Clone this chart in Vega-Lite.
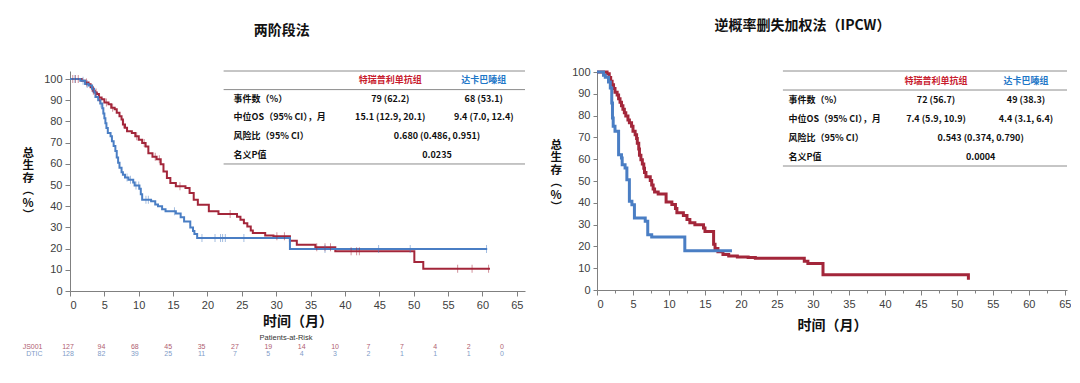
{
  "$schema": "https://vega.github.io/schema/vega-lite/v6.json",
  "padding": {"left": 22, "top": 19, "right": 0, "bottom": 0},
  "background": "white",
  "config": {
    "view": {"stroke": null},
    "font": "Liberation Sans",
    "axis": {"grid": false, "labelOverlap": false, "domainColor": "#808080", "tickColor": "#808080", "labelColor": "#404040", "labelFont": "Liberation Sans", "labelFontSize": 11, "titleFont": "Noto Sans CJK SC", "titleFontSize": 14, "titleFontWeight": "bold", "titleColor": "#111111", "tickSize": 5, "labelPadding": 3},
    "title": {"font": "Noto Sans CJK SC", "fontSize": 14, "fontWeight": "bold", "color": "#111111"}
  },
  "datasets": {
    "survL": [
      {"grp":"JS001","t":0,"s":100},{"grp":"JS001","t":1.7,"s":99.2},{"grp":"JS001","t":2.2,"s":98.4},{"grp":"JS001","t":2.7,"s":97.6},{"grp":"JS001","t":3.0,"s":96.1},{"grp":"JS001","t":3.3,"s":94.5},{"grp":"JS001","t":3.6,"s":93.7},{"grp":"JS001","t":3.9,"s":92.9},{"grp":"JS001","t":4.2,"s":91.3},{"grp":"JS001","t":4.6,"s":90.5},{"grp":"JS001","t":5.0,"s":88.9},{"grp":"JS001","t":5.6,"s":88.1},{"grp":"JS001","t":6.0,"s":86.5},{"grp":"JS001","t":6.5,"s":85.7},{"grp":"JS001","t":6.8,"s":84.1},{"grp":"JS001","t":7.2,"s":82.5},{"grp":"JS001","t":7.5,"s":80.9},{"grp":"JS001","t":7.7,"s":78.5},{"grp":"JS001","t":8.0,"s":77.0},{"grp":"JS001","t":8.3,"s":75.4},{"grp":"JS001","t":9.0,"s":74.6},{"grp":"JS001","t":9.5,"s":73.0},{"grp":"JS001","t":10.0,"s":71.4},{"grp":"JS001","t":10.5,"s":69.8},{"grp":"JS001","t":11.0,"s":68.2},{"grp":"JS001","t":11.4,"s":65.0},{"grp":"JS001","t":12.0,"s":63.4},{"grp":"JS001","t":12.6,"s":62.2},{"grp":"JS001","t":13.2,"s":59.8},{"grp":"JS001","t":13.6,"s":56.4},{"grp":"JS001","t":14.1,"s":53.3},{"grp":"JS001","t":14.6,"s":50.9},{"grp":"JS001","t":15.4,"s":49.4},{"grp":"JS001","t":16.8,"s":48.6},{"grp":"JS001","t":17.4,"s":46.2},{"grp":"JS001","t":18.0,"s":43.1},{"grp":"JS001","t":18.6,"s":40.7},{"grp":"JS001","t":20.2,"s":37.6},{"grp":"JS001","t":21.6,"s":36.3},{"grp":"JS001","t":24.3,"s":35.0},{"grp":"JS001","t":24.8,"s":33.6},{"grp":"JS001","t":25.3,"s":32.0},{"grp":"JS001","t":25.8,"s":30.4},{"grp":"JS001","t":26.3,"s":28.5},{"grp":"JS001","t":26.6,"s":27.4},{"grp":"JS001","t":28.4,"s":26.2},{"grp":"JS001","t":29.6,"s":25.8},{"grp":"JS001","t":32.0,"s":23.7},{"grp":"JS001","t":33.0,"s":21.8},{"grp":"JS001","t":35.7,"s":20.6},{"grp":"JS001","t":38.6,"s":18.7},{"grp":"JS001","t":50.1,"s":13.7},{"grp":"JS001","t":51.4,"s":10.5},{"grp":"JS001","t":61.1,"s":10.5},
      {"grp":"DTIC","t":0,"s":100},{"grp":"DTIC","t":1.5,"s":99.2},{"grp":"DTIC","t":2.2,"s":97.7},{"grp":"DTIC","t":2.7,"s":96.9},{"grp":"DTIC","t":3.2,"s":95.4},{"grp":"DTIC","t":3.5,"s":93.8},{"grp":"DTIC","t":3.7,"s":91.5},{"grp":"DTIC","t":4.1,"s":90.0},{"grp":"DTIC","t":4.4,"s":88.5},{"grp":"DTIC","t":4.7,"s":86.2},{"grp":"DTIC","t":4.85,"s":83.8},{"grp":"DTIC","t":5.0,"s":81.5},{"grp":"DTIC","t":5.15,"s":79.2},{"grp":"DTIC","t":5.3,"s":76.9},{"grp":"DTIC","t":5.5,"s":74.6},{"grp":"DTIC","t":5.9,"s":73.0},{"grp":"DTIC","t":6.1,"s":70.7},{"grp":"DTIC","t":6.35,"s":68.4},{"grp":"DTIC","t":6.6,"s":66.0},{"grp":"DTIC","t":6.8,"s":63.0},{"grp":"DTIC","t":7.0,"s":60.5},{"grp":"DTIC","t":7.2,"s":58.2},{"grp":"DTIC","t":7.5,"s":56.0},{"grp":"DTIC","t":7.7,"s":54.8},{"grp":"DTIC","t":8.0,"s":53.6},{"grp":"DTIC","t":8.5,"s":52.5},{"grp":"DTIC","t":9.2,"s":51.2},{"grp":"DTIC","t":9.4,"s":49.8},{"grp":"DTIC","t":10.1,"s":48.3},{"grp":"DTIC","t":10.3,"s":45.6},{"grp":"DTIC","t":10.5,"s":43.1},{"grp":"DTIC","t":11.8,"s":42.3},{"grp":"DTIC","t":12.4,"s":40.8},{"grp":"DTIC","t":12.8,"s":40.0},{"grp":"DTIC","t":13.4,"s":38.6},{"grp":"DTIC","t":13.9,"s":37.6},{"grp":"DTIC","t":15.4,"s":36.6},{"grp":"DTIC","t":16.1,"s":34.8},{"grp":"DTIC","t":16.6,"s":32.8},{"grp":"DTIC","t":17.5,"s":30.0},{"grp":"DTIC","t":17.9,"s":28.3},{"grp":"DTIC","t":18.1,"s":26.9},{"grp":"DTIC","t":18.5,"s":25.0},{"grp":"DTIC","t":32.0,"s":19.8},{"grp":"DTIC","t":60.7,"s":19.8}
    ],
    "censL": [
      {"grp":"JS001","t":0.4,"s":100},{"grp":"JS001","t":0.8,"s":100},{"grp":"JS001","t":1.2,"s":100},{"grp":"JS001","t":2.4,"s":98.4},{"grp":"JS001","t":3.4,"s":94.5},{"grp":"JS001","t":3.8,"s":93.7},{"grp":"JS001","t":4.3,"s":91.3},{"grp":"JS001","t":5.3,"s":88.9},{"grp":"JS001","t":6.2,"s":86.5},{"grp":"JS001","t":7.8,"s":78.5},{"grp":"JS001","t":9.7,"s":73.0},{"grp":"JS001","t":10.8,"s":69.8},{"grp":"JS001","t":12.4,"s":63.4},{"grp":"JS001","t":13.0,"s":62.2},{"grp":"JS001","t":16.0,"s":49.4},{"grp":"JS001","t":23.3,"s":36.3},{"grp":"JS001","t":30.1,"s":25.8},{"grp":"JS001","t":31.2,"s":25.8},{"grp":"JS001","t":35.9,"s":20.6},{"grp":"JS001","t":37.1,"s":20.6},{"grp":"JS001","t":37.9,"s":20.6},{"grp":"JS001","t":40.9,"s":18.7},{"grp":"JS001","t":41.7,"s":18.7},{"grp":"JS001","t":42.1,"s":18.7},{"grp":"JS001","t":56.4,"s":10.5},{"grp":"JS001","t":58.5,"s":10.5},{"grp":"JS001","t":60.9,"s":10.5},
      {"grp":"DTIC","t":0.7,"s":100},{"grp":"DTIC","t":1.9,"s":99.2},{"grp":"DTIC","t":2.5,"s":97.7},{"grp":"DTIC","t":3.3,"s":95.4},{"grp":"DTIC","t":4.5,"s":88.5},{"grp":"DTIC","t":8.3,"s":53.6},{"grp":"DTIC","t":8.8,"s":52.5},{"grp":"DTIC","t":9.6,"s":49.8},{"grp":"DTIC","t":10.0,"s":49.8},{"grp":"DTIC","t":11.05,"s":43.1},{"grp":"DTIC","t":11.4,"s":43.1},{"grp":"DTIC","t":15.2,"s":37.6},{"grp":"DTIC","t":19.2,"s":25.0},{"grp":"DTIC","t":21.1,"s":25.0},{"grp":"DTIC","t":21.9,"s":25.0},{"grp":"DTIC","t":22.2,"s":25.0},{"grp":"DTIC","t":22.6,"s":25.0},{"grp":"DTIC","t":25.3,"s":25.0},{"grp":"DTIC","t":37.1,"s":19.8},{"grp":"DTIC","t":44.9,"s":19.8},{"grp":"DTIC","t":49.5,"s":19.8},{"grp":"DTIC","t":60.6,"s":19.8}
    ],
    "survR": [
      {"grp":"JS001","t":0,"s":100},{"grp":"JS001","t":1.4,"s":99.2},{"grp":"JS001","t":1.7,"s":97.5},{"grp":"JS001","t":1.9,"s":95.8},{"grp":"JS001","t":2.1,"s":94.2},{"grp":"JS001","t":2.3,"s":92.5},{"grp":"JS001","t":2.5,"s":90.8},{"grp":"JS001","t":2.8,"s":89.5},{"grp":"JS001","t":3.0,"s":87.8},{"grp":"JS001","t":3.2,"s":86.2},{"grp":"JS001","t":3.4,"s":84.5},{"grp":"JS001","t":3.6,"s":83.0},{"grp":"JS001","t":3.8,"s":81.3},{"grp":"JS001","t":4.0,"s":79.8},{"grp":"JS001","t":4.3,"s":78.0},{"grp":"JS001","t":4.5,"s":76.7},{"grp":"JS001","t":4.8,"s":75.1},{"grp":"JS001","t":5.0,"s":72.9},{"grp":"JS001","t":5.3,"s":71.3},{"grp":"JS001","t":5.5,"s":69.5},{"grp":"JS001","t":5.6,"s":67.4},{"grp":"JS001","t":5.8,"s":64.7},{"grp":"JS001","t":5.9,"s":61.8},{"grp":"JS001","t":6.1,"s":59.8},{"grp":"JS001","t":6.3,"s":57.8},{"grp":"JS001","t":6.5,"s":55.9},{"grp":"JS001","t":6.6,"s":53.9},{"grp":"JS001","t":6.8,"s":52.0},{"grp":"JS001","t":7.4,"s":50.2},{"grp":"JS001","t":7.6,"s":48.2},{"grp":"JS001","t":7.8,"s":46.3},{"grp":"JS001","t":8.0,"s":45.0},{"grp":"JS001","t":8.5,"s":44.0},{"grp":"JS001","t":9.6,"s":40.4},{"grp":"JS001","t":10.4,"s":39.2},{"grp":"JS001","t":10.9,"s":37.4},{"grp":"JS001","t":11.1,"s":35.5},{"grp":"JS001","t":12.0,"s":34.2},{"grp":"JS001","t":12.5,"s":32.3},{"grp":"JS001","t":12.9,"s":30.9},{"grp":"JS001","t":13.6,"s":29.9},{"grp":"JS001","t":14.8,"s":28.5},{"grp":"JS001","t":15.0,"s":26.9},{"grp":"JS001","t":16.2,"s":21.0},{"grp":"JS001","t":16.4,"s":19.0},{"grp":"JS001","t":16.8,"s":17.5},{"grp":"JS001","t":17.5,"s":16.3},{"grp":"JS001","t":18.3,"s":15.6},{"grp":"JS001","t":19.5,"s":15.2},{"grp":"JS001","t":21.0,"s":14.9},{"grp":"JS001","t":22.0,"s":14.6},{"grp":"JS001","t":28.8,"s":13.2},{"grp":"JS001","t":29.3,"s":12.2},{"grp":"JS001","t":31.4,"s":7.0},{"grp":"JS001","t":51.6,"s":4.7},
      {"grp":"DTIC","t":0,"s":100},{"grp":"DTIC","t":0.9,"s":98.5},{"grp":"DTIC","t":1.15,"s":97.6},{"grp":"DTIC","t":1.6,"s":95.4},{"grp":"DTIC","t":1.85,"s":92.7},{"grp":"DTIC","t":2.05,"s":85.8},{"grp":"DTIC","t":2.15,"s":78.9},{"grp":"DTIC","t":2.25,"s":75.1},{"grp":"DTIC","t":2.5,"s":72.8},{"grp":"DTIC","t":3.0,"s":62.1},{"grp":"DTIC","t":3.4,"s":60.6},{"grp":"DTIC","t":3.5,"s":57.5},{"grp":"DTIC","t":3.9,"s":56.0},{"grp":"DTIC","t":4.15,"s":50.6},{"grp":"DTIC","t":4.5,"s":40.7},{"grp":"DTIC","t":4.85,"s":39.1},{"grp":"DTIC","t":5.2,"s":33.0},{"grp":"DTIC","t":6.7,"s":31.5},{"grp":"DTIC","t":7.05,"s":25.4},{"grp":"DTIC","t":7.6,"s":24.3},{"grp":"DTIC","t":12.2,"s":18.0},{"grp":"DTIC","t":18.75,"s":18.0}
    ],
    "tabL": [
      {"row":"h","col":"c1","text":"特瑞普利单抗组"},
      {"row":"h","col":"c2","text":"达卡巴嗪组"},
      {"row":"r1","col":"lab","text":"事件数（%）"},
      {"row":"r1","col":"c1","text":"79 (62.2)"},
      {"row":"r1","col":"c2","text":"68 (53.1)"},
      {"row":"r2","col":"lab","text":"中位OS（95% CI），月"},
      {"row":"r2","col":"c1","text":"15.1 (12.9, 20.1)"},
      {"row":"r2","col":"c2","text":"9.4 (7.0, 12.4)"},
      {"row":"r3","col":"lab","text":"风险比（95% CI）"},
      {"row":"r3","col":"m","text":"0.680 (0.486, 0.951)"},
      {"row":"r4","col":"lab","text":"名义P值"},
      {"row":"r4","col":"m","text":"0.0235"}
    ],
    "tabR": [
      {"row":"h","col":"c1","text":"特瑞普利单抗组"},
      {"row":"h","col":"c2","text":"达卡巴嗪组"},
      {"row":"r1","col":"lab","text":"事件数（%）"},
      {"row":"r1","col":"c1","text":"72 (56.7)"},
      {"row":"r1","col":"c2","text":"49 (38.3)"},
      {"row":"r2","col":"lab","text":"中位OS（95% CI），月"},
      {"row":"r2","col":"c1","text":"7.4 (5.9, 10.9)"},
      {"row":"r2","col":"c2","text":"4.4 (3.1, 6.4)"},
      {"row":"r3","col":"lab","text":"风险比（95% CI）"},
      {"row":"r3","col":"m","text":"0.543 (0.374, 0.790)"},
      {"row":"r4","col":"lab","text":"名义P值"},
      {"row":"r4","col":"m","text":"0.0004"}
    ],
    "tabLines": [{"row":"h"},{"row":"r1"},{"row":"end"}],
    "risk": [
      {"grp":"JS001","t":0,"n":127},{"grp":"JS001","t":5,"n":94},{"grp":"JS001","t":10,"n":68},{"grp":"JS001","t":15,"n":45},{"grp":"JS001","t":20,"n":35},{"grp":"JS001","t":25,"n":27},{"grp":"JS001","t":30,"n":19},{"grp":"JS001","t":35,"n":14},{"grp":"JS001","t":40,"n":10},{"grp":"JS001","t":45,"n":7},{"grp":"JS001","t":50,"n":7},{"grp":"JS001","t":55,"n":4},{"grp":"JS001","t":60,"n":2},{"grp":"JS001","t":65,"n":0},
      {"grp":"DTIC","t":0,"n":128},{"grp":"DTIC","t":5,"n":82},{"grp":"DTIC","t":10,"n":39},{"grp":"DTIC","t":15,"n":25},{"grp":"DTIC","t":20,"n":11},{"grp":"DTIC","t":25,"n":7},{"grp":"DTIC","t":30,"n":5},{"grp":"DTIC","t":35,"n":4},{"grp":"DTIC","t":40,"n":3},{"grp":"DTIC","t":45,"n":2},{"grp":"DTIC","t":50,"n":1},{"grp":"DTIC","t":55,"n":1},{"grp":"DTIC","t":60,"n":1},{"grp":"DTIC","t":65,"n":0}
    ]
  },
  "hconcat": [
    {
      "spacing": 6,
      "vconcat": [
        {
          "width": 455,
          "height": 220,
          "title": {"text": "两阶段法", "anchor": "middle", "frame": "bounds", "offset": 33, "dx": 8},
          "layer": [
            {
              "layer": [
                {
                  "data": {"name": "survL"},
                  "mark": {"type": "line", "interpolate": "step-after", "strokeWidth": 2},
                  "encoding": {
                    "x": {"field": "t", "type": "quantitative", "scale": {"domain": [0, 66.2], "nice": false, "zero": false}, "axis": {"values": [0,5,10,15,20,25,30,35,40,45,50,55,60,65], "title": "时间（月）", "titlePadding": 4}},
                    "y": {"field": "s", "type": "quantitative", "scale": {"domain": [0, 103.8], "nice": false}, "axis": {"values": [0,10,20,30,40,50,60,70,80,90,100], "title": ["总","生","存","︵","%","︶"], "titleAngle": 0, "titleAlign": "left", "titleBaseline": "top", "titleFontSize": 11.5, "titleLineHeight": 12.5, "titleX": -48, "titleY": 76}},
                    "color": {"field": "grp", "type": "nominal", "scale": {"domain": ["JS001","DTIC"], "range": ["#A3263A","#4A7EC4"]}, "legend": null}
                  }
                },
                {
                  "data": {"name": "censL"},
                  "mark": {"type": "tick", "orient": "vertical", "size": 8, "thickness": 1, "opacity": 0.5},
                  "encoding": {
                    "x": {"field": "t", "type": "quantitative", "axis": {"values": [0,5,10,15,20,25,30,35,40,45,50,55,60,65], "title": "时间（月）", "titlePadding": 4}},
                    "y": {"field": "s", "type": "quantitative", "axis": {"values": [0,10,20,30,40,50,60,70,80,90,100], "title": ["总","生","存","︵","%","︶"], "titleAngle": 0, "titleAlign": "left", "titleBaseline": "top", "titleFontSize": 11.5, "titleLineHeight": 12.5, "titleX": -48, "titleY": 76}},
                    "color": {"field": "grp", "type": "nominal", "legend": null}
                  }
                }
              ]
            },
            {
              "layer": [
                {
                  "data": {"name": "tabLines"},
                  "mark": {"type": "rule", "color": "#8c8c8c", "strokeWidth": 1},
                  "encoding": {
                    "x": {"datum": 22.35, "axis": {"values": [0,5,10,15,20,25,30,35,40,45,50,55,60,65], "title": "时间（月）", "titlePadding": 4}},
                    "x2": {"datum": 66.2},
                    "y": {"field": "row", "type": "ordinal", "bandPosition": 0, "scale": {"type": "band", "domain": ["h","r1","r2","r3","r4","end","_1","_2","_3","_4","_5"], "paddingInner": 0, "paddingOuter": 0.415, "align": 0}, "axis": null}
                  }
                },
                {
                  "data": {"name": "tabL"},
                  "transform": [{"filter": "datum.col === 'lab'"}],
                  "mark": {"type": "text", "align": "left", "font": "Noto Sans CJK SC", "fontWeight": "bold", "fontSize": 9, "color": "#111111"},
                  "encoding": {
                    "x": {"datum": 23.8, "axis": {"values": [0,5,10,15,20,25,30,35,40,45,50,55,60,65], "title": "时间（月）", "titlePadding": 4}},
                    "y": {"field": "row", "type": "ordinal", "scale": {"type": "band", "domain": ["h","r1","r2","r3","r4","end","_1","_2","_3","_4","_5"], "paddingInner": 0, "paddingOuter": 0.415, "align": 0}, "axis": null},
                    "text": {"field": "text"}
                  }
                },
                {
                  "data": {"name": "tabL"},
                  "transform": [{"filter": "datum.col === 'c1'"}],
                  "mark": {"type": "text", "align": "center", "font": "Noto Sans CJK SC", "fontWeight": "bold", "fontSize": 9},
                  "encoding": {
                    "x": {"datum": 46.6, "axis": {"values": [0,5,10,15,20,25,30,35,40,45,50,55,60,65], "title": "时间（月）", "titlePadding": 4}},
                    "y": {"field": "row", "type": "ordinal", "scale": {"type": "band", "domain": ["h","r1","r2","r3","r4","end","_1","_2","_3","_4","_5"], "paddingInner": 0, "paddingOuter": 0.415, "align": 0}, "axis": null},
                    "text": {"field": "text"},
                    "color": {"condition": {"test": "datum.row === 'h'", "value": "#C8202E"}, "value": "#111111"}
                  }
                },
                {
                  "data": {"name": "tabL"},
                  "transform": [{"filter": "datum.col === 'c2'"}],
                  "mark": {"type": "text", "align": "center", "font": "Noto Sans CJK SC", "fontWeight": "bold", "fontSize": 9},
                  "encoding": {
                    "x": {"datum": 60.2, "axis": {"values": [0,5,10,15,20,25,30,35,40,45,50,55,60,65], "title": "时间（月）", "titlePadding": 4}},
                    "y": {"field": "row", "type": "ordinal", "scale": {"type": "band", "domain": ["h","r1","r2","r3","r4","end","_1","_2","_3","_4","_5"], "paddingInner": 0, "paddingOuter": 0.415, "align": 0}, "axis": null},
                    "text": {"field": "text"},
                    "color": {"condition": {"test": "datum.row === 'h'", "value": "#1F78C8"}, "value": "#111111"}
                  }
                },
                {
                  "data": {"name": "tabL"},
                  "transform": [{"filter": "datum.col === 'm'"}],
                  "mark": {"type": "text", "align": "center", "font": "Noto Sans CJK SC", "fontWeight": "bold", "fontSize": 9, "color": "#111111"},
                  "encoding": {
                    "x": {"datum": 53.4, "axis": {"values": [0,5,10,15,20,25,30,35,40,45,50,55,60,65], "title": "时间（月）", "titlePadding": 4}},
                    "y": {"field": "row", "type": "ordinal", "scale": {"type": "band", "domain": ["h","r1","r2","r3","r4","end","_1","_2","_3","_4","_5"], "paddingInner": 0, "paddingOuter": 0.415, "align": 0}, "axis": null},
                    "text": {"field": "text"}
                  }
                }
              ]
            }
          ],
          "resolve": {"scale": {"y": "independent"}}
        },
        {
          "width": 432,
          "height": 14,
          "title": {"text": "Patients-at-Risk", "font": "Liberation Sans", "fontSize": 7.5, "fontWeight": "normal", "color": "#333333", "offset": 1, "anchor": "middle", "frame": "group"},
          "data": {"name": "risk"},
          "mark": {"type": "text", "font": "Liberation Sans", "fontSize": 7},
          "encoding": {
            "x": {"field": "t", "type": "quantitative", "scale": {"domain": [0.3, 65], "nice": false, "zero": false}, "axis": null},
            "y": {"field": "grp", "type": "nominal", "sort": ["JS001","DTIC"], "axis": {"title": null, "domain": false, "ticks": false, "labelPadding": 28, "labelFontSize": 7, "labelColor": {"condition": {"test": "datum.value === 'JS001'", "value": "#B06070"}, "value": "#7F9CC8"}}},
            "text": {"field": "n", "type": "quantitative"},
            "color": {"condition": {"test": "datum.grp === 'JS001'", "value": "#B06070"}, "value": "#7F9CC8"}
          }
        }
      ]
    },
    {
      "width": 470,
      "height": 219,
      "title": {"text": "逆概率删失加权法（IPCW）", "anchor": "middle", "frame": "bounds", "offset": 33, "dx": -8},
      "layer": [
        {
          "data": {"name": "survR"},
          "mark": {"type": "line", "interpolate": "step-after", "strokeWidth": 3},
          "encoding": {
            "x": {"field": "t", "type": "quantitative", "scale": {"domain": [0, 65.3], "nice": false, "zero": false}, "axis": {"values": [0,2.5,5,7.5,10,12.5,15,17.5,20,22.5,25,27.5,30,32.5,35,37.5,40,42.5,45,47.5,50,52.5,55,57.5,60,62.5,65], "labelExpr": "datum.value % 5 === 0 ? datum.label : ''", "tickSize": {"condition": {"test": "datum.value % 5 === 0", "value": 5}, "value": 3}, "title": "时间（月）", "titlePadding": 9}},
            "y": {"field": "s", "type": "quantitative", "scale": {"domain": [0, 100.5], "nice": false}, "axis": {"values": [0,10,20,30,40,50,60,70,80,90,100], "tickSize": 4, "title": ["总","生","存","︵","%","︶"], "titleAngle": 0, "titleAlign": "left", "titleBaseline": "top", "titleFontSize": 11.5, "titleLineHeight": 12.5, "titleX": -47, "titleY": 68}},
            "color": {"field": "grp", "type": "nominal", "scale": {"domain": ["JS001","DTIC"], "range": ["#A3263A","#4A7EC4"]}, "legend": null}
          }
        },
        {
          "layer": [
            {
              "data": {"name": "tabLines"},
              "mark": {"type": "rule", "color": "#8c8c8c", "strokeWidth": 1},
              "encoding": {
                "x": {"datum": 25.83, "axis": {"values": [0,2.5,5,7.5,10,12.5,15,17.5,20,22.5,25,27.5,30,32.5,35,37.5,40,42.5,45,47.5,50,52.5,55,57.5,60,62.5,65], "labelExpr": "datum.value % 5 === 0 ? datum.label : ''", "tickSize": {"condition": {"test": "datum.value % 5 === 0", "value": 5}, "value": 3}, "title": "时间（月）", "titlePadding": 9}},
                "x2": {"datum": 65.3},
                "y": {"field": "row", "type": "ordinal", "bandPosition": 0, "scale": {"type": "band", "domain": ["h","r1","r2","r3","r4","end","_1","_2","_3","_4","_5"], "paddingInner": 0, "paddingOuter": 0.263, "align": 0}, "axis": null}
              }
            },
            {
              "data": {"name": "tabR"},
              "transform": [{"filter": "datum.col === 'lab'"}],
              "mark": {"type": "text", "align": "left", "font": "Noto Sans CJK SC", "fontWeight": "bold", "fontSize": 9, "color": "#111111"},
              "encoding": {
                "x": {"datum": 26.6, "axis": {"values": [0,2.5,5,7.5,10,12.5,15,17.5,20,22.5,25,27.5,30,32.5,35,37.5,40,42.5,45,47.5,50,52.5,55,57.5,60,62.5,65], "labelExpr": "datum.value % 5 === 0 ? datum.label : ''", "tickSize": {"condition": {"test": "datum.value % 5 === 0", "value": 5}, "value": 3}, "title": "时间（月）", "titlePadding": 9}},
                "y": {"field": "row", "type": "ordinal", "scale": {"type": "band", "domain": ["h","r1","r2","r3","r4","end","_1","_2","_3","_4","_5"], "paddingInner": 0, "paddingOuter": 0.263, "align": 0}, "axis": null},
                "text": {"field": "text"}
              }
            },
            {
              "data": {"name": "tabR"},
              "transform": [{"filter": "datum.col === 'c1'"}],
              "mark": {"type": "text", "align": "center", "font": "Noto Sans CJK SC", "fontWeight": "bold", "fontSize": 9},
              "encoding": {
                "x": {"datum": 47.1, "axis": {"values": [0,2.5,5,7.5,10,12.5,15,17.5,20,22.5,25,27.5,30,32.5,35,37.5,40,42.5,45,47.5,50,52.5,55,57.5,60,62.5,65], "labelExpr": "datum.value % 5 === 0 ? datum.label : ''", "tickSize": {"condition": {"test": "datum.value % 5 === 0", "value": 5}, "value": 3}, "title": "时间（月）", "titlePadding": 9}},
                "y": {"field": "row", "type": "ordinal", "scale": {"type": "band", "domain": ["h","r1","r2","r3","r4","end","_1","_2","_3","_4","_5"], "paddingInner": 0, "paddingOuter": 0.263, "align": 0}, "axis": null},
                "text": {"field": "text"},
                "color": {"condition": {"test": "datum.row === 'h'", "value": "#C8202E"}, "value": "#111111"}
              }
            },
            {
              "data": {"name": "tabR"},
              "transform": [{"filter": "datum.col === 'c2'"}],
              "mark": {"type": "text", "align": "center", "font": "Noto Sans CJK SC", "fontWeight": "bold", "fontSize": 9},
              "encoding": {
                "x": {"datum": 59.6, "axis": {"values": [0,2.5,5,7.5,10,12.5,15,17.5,20,22.5,25,27.5,30,32.5,35,37.5,40,42.5,45,47.5,50,52.5,55,57.5,60,62.5,65], "labelExpr": "datum.value % 5 === 0 ? datum.label : ''", "tickSize": {"condition": {"test": "datum.value % 5 === 0", "value": 5}, "value": 3}, "title": "时间（月）", "titlePadding": 9}},
                "y": {"field": "row", "type": "ordinal", "scale": {"type": "band", "domain": ["h","r1","r2","r3","r4","end","_1","_2","_3","_4","_5"], "paddingInner": 0, "paddingOuter": 0.263, "align": 0}, "axis": null},
                "text": {"field": "text"},
                "color": {"condition": {"test": "datum.row === 'h'", "value": "#1F78C8"}, "value": "#111111"}
              }
            },
            {
              "data": {"name": "tabR"},
              "transform": [{"filter": "datum.col === 'm'"}],
              "mark": {"type": "text", "align": "center", "font": "Noto Sans CJK SC", "fontWeight": "bold", "fontSize": 9, "color": "#111111"},
              "encoding": {
                "x": {"datum": 53.3, "axis": {"values": [0,2.5,5,7.5,10,12.5,15,17.5,20,22.5,25,27.5,30,32.5,35,37.5,40,42.5,45,47.5,50,52.5,55,57.5,60,62.5,65], "labelExpr": "datum.value % 5 === 0 ? datum.label : ''", "tickSize": {"condition": {"test": "datum.value % 5 === 0", "value": 5}, "value": 3}, "title": "时间（月）", "titlePadding": 9}},
                "y": {"field": "row", "type": "ordinal", "scale": {"type": "band", "domain": ["h","r1","r2","r3","r4","end","_1","_2","_3","_4","_5"], "paddingInner": 0, "paddingOuter": 0.263, "align": 0}, "axis": null},
                "text": {"field": "text"}
              }
            }
          ]
        }
      ],
      "resolve": {"scale": {"y": "independent"}}
    }
  ],
  "spacing": 24,
  "resolve": {"scale": {"color": "independent", "x": "independent", "y": "independent"}}
}
